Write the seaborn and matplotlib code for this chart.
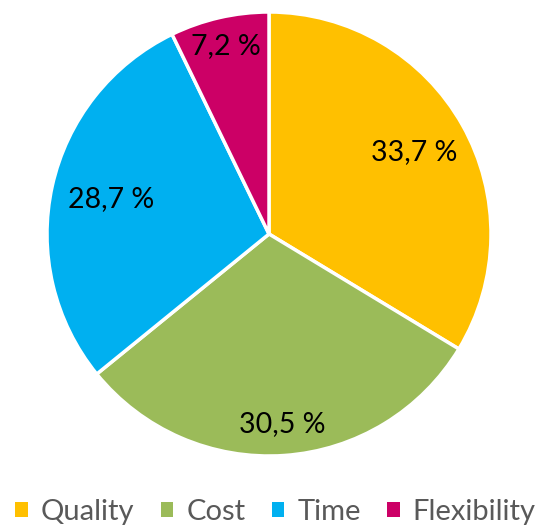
import matplotlib
matplotlib.use("Agg")
import matplotlib.pyplot as plt
from matplotlib.patches import Patch
import seaborn as sns
import numpy as np

sns.set_theme(style="white")
plt.rcParams['font.family'] = ['Lato', 'DejaVu Sans']

categories = ["Quality", "Cost", "Time", "Flexibility"]
shares = [33.7, 30.5, 28.7, 7.2]
colors = ["#FFC000", "#9BBB59", "#00B0F0", "#CC0066"]
label_radius = [0.75, 0.86, 0.73, 0.87]

W, H = 540, 529
fig = plt.figure(figsize=(W / 100, H / 100), dpi=100)
cx, cy, r = 269, 234, 222
ax = fig.add_axes([(cx - r) / W, (H - cy - r) / H, 2 * r / W, 2 * r / H])

wedges, _ = ax.pie(shares, colors=colors, startangle=90, counterclock=False,
                   radius=1.0, wedgeprops=dict(edgecolor="white", linewidth=2.5))

total = sum(shares)
start = 90.0
for w, v, d in zip(wedges, shares, label_radius):
    mid = np.deg2rad(start - v / total * 360 / 2)
    start -= v / total * 360
    ax.text(d * np.cos(mid), d * np.sin(mid), f"{v:.1f} %".replace(".", ","),
            ha="center", va="center", fontsize=20.5, color="black")

ax.set_xlim(-1, 1)
ax.set_ylim(-1, 1)
ax.set_aspect("equal")
ax.axis("off")

handles = [Patch(facecolor=c, edgecolor="none") for c in colors]
leg = fig.legend(handles, categories, loc="center", bbox_to_anchor=(0.51, 1 - 512 / H),
                 ncol=4, frameon=False, fontsize=21, handlelength=0.43, handleheight=0.43,
                 handletextpad=0.45, columnspacing=0.9, borderpad=0.1, borderaxespad=0.0,
                 labelcolor="#595959")

fig.savefig("out.png", dpi=100, facecolor="white")
